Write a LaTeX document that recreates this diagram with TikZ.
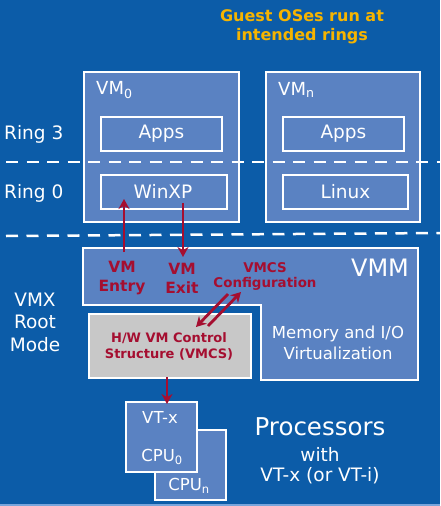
\documentclass[tikz,border=0pt]{standalone}
\usepackage{fontspec}
\setmainfont{DejaVu Sans}
\usetikzlibrary{arrows.meta}
\definecolor{bg}{RGB}{12,92,168}
\definecolor{boxc}{RGB}{90,130,194}
\definecolor{dred}{RGB}{165,14,48}
\definecolor{orng}{RGB}{246,180,0}
\definecolor{grayc}{RGB}{200,200,200}
\definecolor{strip}{RGB}{120,165,220}
\begin{document}
\begin{tikzpicture}[x=1pt,y=-1pt,
  box/.style={draw=white,line width=1.9pt,fill=boxc,anchor=north west,inner sep=0pt},
  gbox/.style={box,fill=grayc},
  wt/.style={text=white,inner sep=0pt,align=center,font=\fontsize{#1}{#1}\selectfont},
  wt/.default=18.5,
  wtm/.style 2 args={text=white,inner sep=0pt,align=center,font=\fontsize{#1}{#2}\selectfont},
  rt/.style 2 args={text=dred,inner sep=0pt,align=center,font=\bfseries\fontsize{#1}{#2}\selectfont},
  ring/.style={draw=white,line width=2.5pt,dash pattern=on 12pt off 8.5pt},
  rarrow/.style={draw=dred,line width=2.8pt,-{Stealth[length=10pt,width=11pt]}}]
\fill[bg] (0,0) rectangle (440,506);
\useasboundingbox (0,0) rectangle (440,506);
\fill[strip] (0,503.5) rectangle (440,506);

% title
\node[inner sep=0pt,text=orng,align=center,font=\bfseries\fontsize{16}{19}\selectfont] (title) at (302,27) {Guest OSes run at\\intended rings};

% VMs
\node[box,minimum width=155pt,minimum height=150pt] (vm0) at (83,71) {};
\node[box,minimum width=154pt,minimum height=150pt] (vmn) at (265,71) {};
\node[wt=18,anchor=west] (vm0l) at (96,90) {VM\textsubscript{0}};
\node[wt=18,anchor=west] (vmnl) at (278,90) {VM\textsubscript{n}};
\node[box,minimum width=121pt,minimum height=34pt] (apps0) at (100,116) {};
\node[wt] (apps0t) at (apps0.center) {Apps};
\node[box,minimum width=126pt,minimum height=34pt] (winxp) at (100,174) {};
\node[wt] (winxpt) at (163,191) {WinXP};
\node[box,minimum width=121pt,minimum height=34pt] (appsn) at (282,116) {};
\node[wt] (appsnt) at (appsn.center) {Apps};
\node[box,minimum width=125pt,minimum height=34pt] (linux) at (282,174) {};
\node[wt] (linuxt) at (linux.center) {Linux};

% ring labels
\node[wt,anchor=west] (r3) at (4,134) {Ring 3};
\node[wt,anchor=west] (r0) at (4,193) {Ring 0};

% dashed ring lines
\coordinate (d1a) at (6,162);
\coordinate (d1b) at (440,162);
\coordinate (d2a) at (6,236);
\coordinate (d2b) at (440,233);
\draw[ring] (d1a) -- (d1b);
\draw[ring] (d2a) -- (d2b);

% VMM
\draw[draw=white,line width=1.9pt,fill=boxc] (83,248) -- (418,248) -- (418,380) -- (261,380) -- (261,305) -- (83,305) -- cycle;
\node[wt=24] (vmm) at (380,268) {VMM};
\node[rt={15.5}{19}] (entry) at (122,278.5) {VM\\Entry};
\node[rt={15.5}{19}] (exit) at (182,278.5) {VM\\Exit};
\node[rt={13.4}{15}] (cfg) at (265,276.5) {VMCS\\Configuration};
\node[wtm={16.5}{21}] (memio) at (338,342.5) {Memory and I/O\\Virtualization};

% VMCS box
\node[gbox,minimum width=162pt,minimum height=64pt] (vmcs) at (88,313) {};
\node[rt={13}{16}] (vmcst) at (169,346) {H/W VM Control\\Structure (VMCS)};

% VMX root
\node[wtm={18.5}{22.5}] (vmx) at (35,322) {VMX\\Root\\Mode};

% CPUs
\node[box,minimum width=71pt,minimum height=70pt] (cpun) at (154,429) {};
\node[box,minimum width=71pt,minimum height=70pt] (cpu0) at (125,401) {};
\node[wt=16.5] (vtx) at (160,417) {VT-x};
\node[wt=16.5] (cpu0l) at (162,457) {CPU\textsubscript{0}};
\node[wt=16.5] (cpunl) at (189,486) {CPU\textsubscript{n}};

% processors text
\node[wt=24.5] (proc) at (320,427) {Processors};
\node[wt] (with) at (320,454) {with};
\node[wt] (vti) at (320,476) {VT-x (or VT-i)};

% arrows
\coordinate (ena) at (124,252);
\coordinate (enb) at (124,199);
\coordinate (exa) at (183,203);
\coordinate (exb) at (183,257);
\coordinate (c1a) at (228,294);
\coordinate (c1b) at (196,327);
\coordinate (c2a) at (208,326);
\coordinate (c2b) at (241,292);
\coordinate (pa) at (167,377);
\coordinate (pb) at (167,404);
\draw[rarrow] (ena) -- (enb);
\draw[rarrow] (exa) -- (exb);
\draw[rarrow] (c1a) -- (c1b);
\draw[rarrow] (c2a) -- (c2b);
\draw[rarrow] (pa) -- (pb);
\end{tikzpicture}
\end{document}
